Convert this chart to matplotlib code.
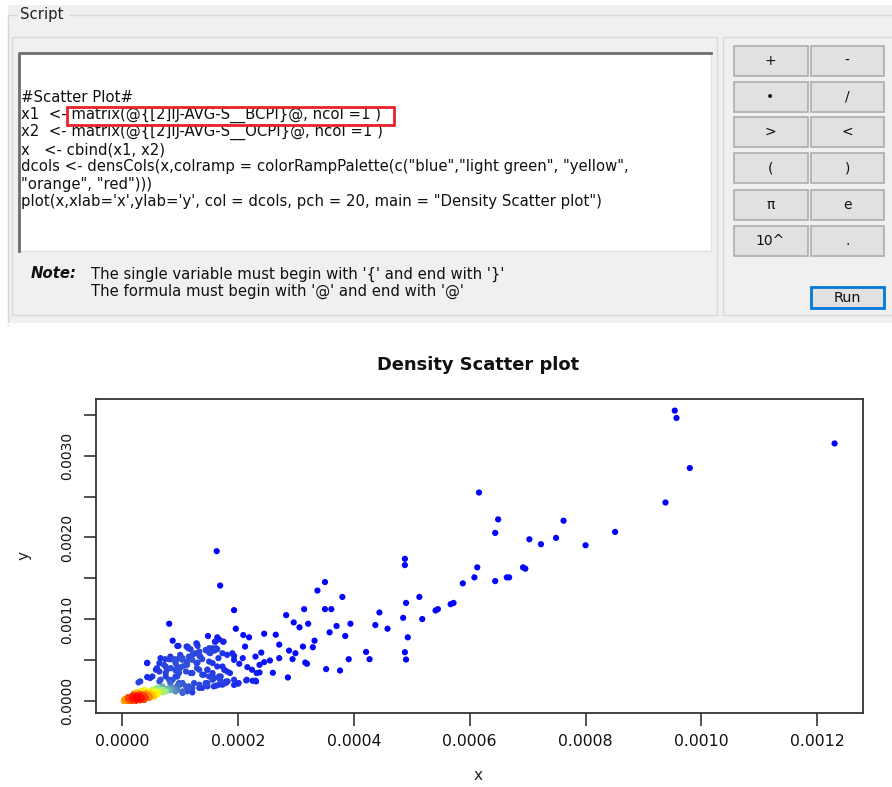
import numpy as np
import matplotlib
matplotlib.use('Agg')
import matplotlib.pyplot as plt
from matplotlib.patches import Rectangle
from matplotlib.colors import LinearSegmentedColormap

# ---------------- data (BCPI on x, OCPI on y, in units of 1e-4) ----------------
# far-out sparse points
outer_pts = np.array([
    (9.54, 35.49), (9.57, 34.59), (12.30, 31.48), (9.80, 28.48), (9.38, 24.27),
    (6.16, 25.49), (6.49, 22.21), (6.44, 20.56), (7.62, 22.05), (7.49, 19.95),
    (7.03, 19.78), (7.23, 19.18), (8.00, 19.05), (8.51, 20.68), (4.88, 17.40),
    (4.88, 16.63), (6.13, 16.35), (6.08, 15.13), (5.88, 14.40), (6.44, 14.68),
    (6.64, 15.13), (6.68, 15.13), (6.92, 16.35), (6.96, 16.19), (5.13, 12.74),
    (4.90, 12.01), (5.41, 11.09), (5.45, 11.25), (5.67, 11.86), (5.72, 12.01),
    (4.85, 10.19), (5.18, 10.04), (4.58, 8.86), (4.93, 7.81), (4.88, 5.99),
    (4.90, 5.10), (4.44, 10.85)])

# middle band
mid_pts = np.array([
    (1.63, 18.33), (1.69, 14.13), (1.93, 11.13), (0.81, 9.47), (1.96, 8.86),
    (3.37, 13.52), (3.50, 14.56), (3.80, 12.74), (3.14, 11.25), (3.50, 11.25),
    (3.61, 11.25), (2.83, 10.52), (2.96, 9.63), (3.06, 9.03), (3.21, 9.47),
    (3.94, 9.47), (3.70, 9.19), (3.58, 8.42), (3.85, 7.97), (4.37, 9.31),
    (2.45, 8.25), (2.65, 8.13), (3.32, 7.40), (3.29, 6.60), (3.12, 6.68),
    (2.71, 6.92), (2.88, 6.19), (2.99, 5.87), (2.71, 5.27), (2.55, 4.98),
    (2.45, 4.78), (2.40, 5.95), (2.30, 5.46), (2.08, 5.27), (2.12, 6.68),
    (2.09, 8.09), (2.19, 7.81), (1.90, 5.87), (3.16, 4.73), (3.19, 4.58),
    (3.52, 3.93), (3.76, 3.76), (3.91, 5.14), (4.21, 6.03), (4.27, 5.14),
    (2.86, 2.91), (2.60, 3.48), (2.37, 3.52), (2.25, 2.51), (2.30, 2.51),
    (2.14, 2.55), (2.00, 2.15), (1.93, 1.99), (1.79, 2.23), (1.82, 2.43),
    (1.67, 2.03), (1.62, 1.91), (1.47, 1.82), (1.38, 1.63), (2.37, 4.45),
    (2.94, 5.15), (1.93, 5.55), (2.02, 4.58), (2.16, 4.17), (2.24, 3.85),
    (2.32, 3.45), (2.15, 2.63), (2.31, 2.43), (2.01, 2.23)])

# dense blue cluster
cluster_pts = np.array([
    (1.48, 7.97), (1.64, 7.81), (1.67, 7.57), (1.74, 7.28), (1.60, 7.28),
    (1.28, 7.08), (1.30, 6.76), (1.11, 6.68), (1.14, 6.48), (0.97, 6.76),
    (0.87, 7.40), (1.50, 6.48), (1.56, 6.48), (1.62, 6.48), (1.46, 6.19),
    (1.73, 5.87), (1.66, 5.27), (1.33, 5.55), (1.21, 5.06), (1.28, 4.66),
    (1.15, 5.46), (1.04, 5.27), (0.95, 5.14), (0.90, 5.14), (0.81, 5.14),
    (0.74, 5.14), (0.43, 4.70), (0.64, 4.66), (0.59, 3.93), (0.64, 3.64),
    (0.75, 4.25), (0.84, 4.05), (0.92, 3.76), (0.98, 3.45), (1.04, 4.25),
    (1.10, 4.45), (0.28, 2.31), (0.43, 2.96), (1.73, 4.25), (1.76, 3.85),
    (1.86, 3.45), (1.69, 2.63), (1.79, 2.43), (1.56, 3.45), (1.59, 2.84),
    (1.47, 3.85), (1.18, 6.36), (1.26, 5.87), (1.33, 6.07), (1.50, 5.95),
    (1.59, 6.19), (0.84, 5.15), (0.92, 4.85), (1.04, 5.06), (1.12, 4.85),
    (1.30, 4.73), (1.38, 5.15), (1.50, 4.85), (1.56, 4.66), (0.98, 3.85),
    (1.10, 3.64), (1.21, 3.45), (1.33, 3.85), (1.38, 3.24), (1.50, 3.03),
    (0.75, 3.03), (0.87, 2.63), (0.98, 2.23), (1.10, 1.82), (1.21, 1.63),
    (1.33, 2.03), (1.44, 2.23), (0.69, 1.82), (0.81, 1.42), (0.92, 1.21),
    (1.04, 1.02), (0.58, 3.85), (0.75, 3.45), (0.92, 3.03), (1.04, 2.23),
    (1.15, 1.82), (1.33, 1.63), (1.56, 2.63), (1.67, 3.03), (1.73, 2.03),
    (0.87, 1.42), (1.04, 1.21), (1.21, 1.09), (0.81, 2.63), (0.64, 2.43),
    (0.52, 3.03), (0.72, 4.45), (0.92, 4.66), (0.95, 6.76), (1.13, 6.67),
    (1.29, 7.00), (1.61, 7.28), (1.75, 7.28), (1.44, 6.27), (1.64, 6.36),
    (0.66, 5.27), (0.83, 5.46), (1.00, 5.67), (1.21, 5.67), (1.35, 5.46),
    (1.52, 5.87), (1.81, 5.67), (1.93, 5.06), (0.43, 4.66), (0.60, 4.05),
    (0.77, 3.85), (0.95, 4.25), (1.12, 4.45), (1.29, 4.05), (1.47, 3.85),
    (1.64, 4.25), (1.81, 3.64), (0.95, 3.03), (1.18, 3.45), (1.41, 3.24),
    (1.70, 3.03), (1.93, 2.63), (0.31, 2.43), (0.48, 2.84), (0.66, 2.63),
    (0.83, 2.23), (1.00, 2.03), (1.24, 2.23), (1.47, 2.23), (1.58, 1.82),
    (0.60, 1.63), (0.77, 1.42), (0.95, 1.42), (1.12, 1.21)])

# single points around the origin blob
near_pts = np.array([
    (0.50, 0.85), (0.55, 0.95), (0.60, 0.80), (0.55, 1.10), (0.62, 1.05),
    (0.65, 1.25), (0.70, 1.10), (0.48, 1.00), (0.40, 0.90), (0.35, 0.80),
    (0.58, 1.30), (0.45, 1.20), (0.70, 1.40), (0.75, 1.20), (0.78, 1.55),
    (0.82, 1.35), (0.52, 1.45), (0.62, 1.60), (0.68, 1.75), (0.85, 1.70),
    (0.90, 1.50), (0.95, 1.90), (0.30, 0.90), (0.42, 1.05), (0.55, 0.55),
    (0.25, 1.10), (0.32, 1.25), (0.20, 0.95), (0.38, 1.40)])

# overplotted stacks at the origin: position and estimated number of points
core_pts = np.array([
    (0.03, 0.05), (0.10, 0.06), (0.17, 0.08), (0.24, 0.12), (0.31, 0.16),
    (0.38, 0.22), (0.05, 0.22), (0.12, 0.26), (0.19, 0.30), (0.26, 0.34),
    (0.33, 0.38), (0.40, 0.42), (0.47, 0.48), (0.10, 0.45), (0.17, 0.50),
    (0.24, 0.54), (0.31, 0.58), (0.38, 0.62), (0.45, 0.68), (0.18, 0.70),
    (0.25, 0.75), (0.32, 0.80), (0.39, 0.85)])
core_counts = [12, 14, 14, 14, 12, 8, 12, 16, 16, 16, 16, 12, 8,
               10, 14, 16, 16, 14, 8, 8, 10, 10, 8]

x_ticks = [0.0000, 0.0002, 0.0004, 0.0006, 0.0008, 0.0010, 0.0012]
y_ticks = [0.0000, 0.0005, 0.0010, 0.0015, 0.0020, 0.0025, 0.0030, 0.0035]

script_lines = [
    '#Scatter Plot#',
    'x1  <- matrix(@{[2]IJ-AVG-S__BCPI}@, ncol =1 )',
    'x2  <- matrix(@{[2]IJ-AVG-S__OCPI}@, ncol =1 )',
    'x   <- cbind(x1, x2)',
    'dcols <- densCols(x,colramp = colorRampPalette(c("blue","light green", "yellow",',
    '"orange", "red")))',
    "plot(x,xlab='x',ylab='y', col = dcols, pch = 20, main = \"Density Scatter plot\")",
]
note_lines = ["The single variable must begin with '{' and end with '}'",
              "The formula must begin with '@' and end with '@'"]
buttons = ['+', '-', '\u2022', '/', '>', '<', '(', ')', '\u03c0', 'e', '10^', '.']

pts = np.vstack([outer_pts, mid_pts, cluster_pts, near_pts,
                 np.repeat(core_pts, core_counts, axis=0)]) * 1e-4
xs, ys = pts[:, 0], pts[:, 1]


# densCols-like colouring: gaussian-smoothed 2D density scaled to [0, 1]
def dens_cols(x, y, bandwidth):
    dx = (x[:, None] - x[None, :]) / bandwidth[0]
    dy = (y[:, None] - y[None, :]) / bandwidth[1]
    d = np.exp(-0.5 * (dx ** 2 + dy ** 2)).sum(axis=1)
    return (d - d.min()) / (d.max() - d.min())


ramp = LinearSegmentedColormap.from_list(
    'ramp', ['blue', '#90EE90', 'yellow', 'orange', 'red'])
dens = dens_cols(xs, ys, (0.28e-4, 0.7e-4))
order = np.argsort(dens)

W, H = 892, 787
fig = plt.figure(figsize=(W / 100, H / 100), dpi=100)
gui = fig.add_axes([0, 0, 1, 1])
gui.set_xlim(0, W)
gui.set_ylim(H, 0)
gui.axis('off')

gui_font = 'DejaVu Sans'
gui_size = 10.7


def box(x0, y0, x1, y1, fc='none', ec='none', lw=1.0, z=1):
    gui.add_patch(Rectangle((x0, y0), x1 - x0, y1 - y0, facecolor=fc,
                            edgecolor=ec, linewidth=lw, zorder=z))


# window background
box(8, 5, W, 325, fc='#f0f0f0')
gui.plot([16, 8, 8], [15, 15, 325], color='#d6d6d6', lw=1, zorder=2)
gui.plot([70, W], [15, 15], color='#d6d6d6', lw=1, zorder=2)
gui.plot([8, W], [324, 324], color='#ffffff', lw=1.5, zorder=2)
gui.text(20, 15, 'Script', fontsize=gui_size, family=gui_font, va='center',
         ha='left', color='#222222', zorder=3)

# left panel
box(12, 37, 717, 315, fc='#f0f0f0', ec='#d8d8d8', lw=1, z=2)
box(18, 52, 711, 251, fc='white', ec='#e3e3e3', lw=1, z=3)
gui.plot([18.5, 18.5, 711], [251, 52.5, 52.5], color='#6e6e6e', lw=2, zorder=4)

line_y = [97.7, 115, 132.3, 149.7, 167, 184.3, 201.7]
for ln, yy in zip(script_lines, line_y):
    gui.text(21, yy, ln, fontsize=gui_size, family=gui_font, va='center',
             ha='left', color='#111111', zorder=5)
box(67, 107, 394, 125, ec='#e8232a', lw=2, z=6)

gui.text(31, 274, 'Note:', fontsize=gui_size, family=gui_font, weight='bold',
         style='italic', va='center', ha='left', color='#111111', zorder=5)
for ln, yy in zip(note_lines, [274, 291]):
    gui.text(91, yy, ln, fontsize=gui_size, family=gui_font, va='center',
             ha='left', color='#111111', zorder=5)

# right panel with buttons
box(723, 37, W + 2, 315, fc='#f0f0f0', ec='#d8d8d8', lw=1, z=2)
col_x = [(733.5, 807.5), (810.5, 884)]
row_y = [(46, 76), (82, 112), (117, 147), (153, 183), (190, 220), (226, 256)]
for i, lab in enumerate(buttons):
    (bx0, bx1), (by0, by1) = col_x[i % 2], row_y[i // 2]
    box(bx0, by0, bx1, by1, fc='#e1e1e1', ec='#adadad', lw=1.2, z=3)
    gui.text((bx0 + bx1) / 2, (by0 + by1) / 2, lab, fontsize=gui_size - 0.7,
             family=gui_font, ha='center', va='center', color='#111111', zorder=4)
box(811, 287, 884, 308, fc='#e1e1e1', ec='#0078d7', lw=2, z=3)
gui.text(847.5, 297.5, 'Run', fontsize=gui_size - 0.3, family=gui_font,
         ha='center', va='center', color='#111111', zorder=4)

# ---------------- scatter plot ----------------
plot_font = 'DejaVu Sans'
ax = fig.add_axes([95.6 / W, 1 - 712.5 / H, (863 - 95.6) / W, (712.5 - 399) / H])
ax.scatter(xs[order], ys[order], c=ramp(dens[order]), s=20, linewidths=0, zorder=3)
ax.margins(x=0.04, y=0.04)
ax.set_xticks(x_ticks)
ax.set_xticklabels(['%.4f' % v for v in x_ticks], family=plot_font, fontsize=11.3)
ax.set_yticks(y_ticks)
ax.set_yticklabels(['%.4f' % v if i % 2 == 0 else '' for i, v in enumerate(y_ticks)],
                   family=plot_font, fontsize=10, rotation=90, va='center')
ax.tick_params(length=9, width=1.2, color='#333333', pad=6.5, labelcolor='#111111')
for sp in ax.spines.values():
    sp.set_color('#333333')
    sp.set_linewidth(1.3)

gui.text(478, 365, 'Density Scatter plot', fontsize=12.9, weight='bold',
         family=plot_font, ha='center', va='center', color='#111111')
gui.text(478, 776, 'x', fontsize=11, family=plot_font, ha='center',
         va='center', color='#222222')
gui.text(24, 555, 'y', fontsize=11, family=plot_font, rotation=90,
         ha='center', va='center', color='#222222')

fig.savefig('out.png', dpi=100)
